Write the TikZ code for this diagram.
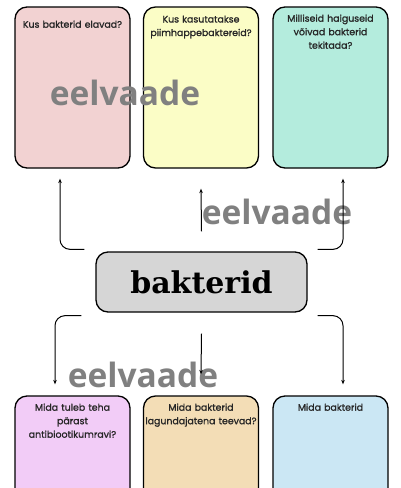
\documentclass[tikz,border=0pt]{standalone}
\usepackage{fontspec}
\newfontfamily\qfont[FakeBold=1.2]{Poppins}
\newfontfamily\wmfont{Open Sans}
\newfontfamily\titlefont{DejaVu Serif}
\usetikzlibrary{positioning, arrows.meta}
\definecolor{elupink}{HTML}{F2D2D2}
\definecolor{piimyellow}{HTML}{FBFDC6}
\definecolor{haigusmint}{HTML}{B4ECDD}
\definecolor{ravililac}{HTML}{F2CCF7}
\definecolor{lagundtan}{HTML}{F3DDB6}
\definecolor{toitblue}{HTML}{CBE7F4}

\begin{document}
\begin{tikzpicture}[x=1pt, y=-1pt, >={Stealth[length=4.5pt,width=3.5pt]},
		qbox/.style={draw, line width=1.3pt, rounded corners=12pt, minimum width=115pt, minimum height=161pt, inner sep=0pt},
		qtext/.style={font=\qfont\fontsize{9.4}{13.5}\selectfont, text=black!85, align=center, text width=114pt, inner sep=0pt},
		wmark/.style={font=\wmfont\bfseries\fontsize{33.5}{33.5}\selectfont, text=black!50},
		link/.style={->, line width=1pt, rounded corners=10pt}]
		\useasboundingbox (0,0) rectangle (400,488);
		\clip (0,0) rectangle (400,488);
		
		% Top boxes
		\node [qbox, fill=elupink, label={[qtext, anchor=north, yshift=-14pt]north:Kus bakterid elavad?}] (elu) at (72.5,87.5) {};
		\node [qbox, fill=piimyellow, label={[qtext, anchor=north, yshift=-9pt]north:Kus kasutatakse\\piimhappebaktereid?}] (piim) at (201,87.5) {};
		\node [qbox, fill=haigusmint, label={[qtext, anchor=north, yshift=-8pt]north:Milliseid haiguseid\\võivad bakterid\\tekitada?}] (haigus) at (330.5,87.5) {};
		
		% Centre
		\node [draw, line width=1.3pt, fill=black!16, rounded corners=12pt, minimum width=211pt, minimum height=60pt] (bakterid) at (201.5,282) {\titlefont\bfseries\fontsize{30}{30}\selectfont bakterid};
		
		% Bottom boxes
		\node [qbox, fill=ravililac, label={[qtext, anchor=north, yshift=-8pt]north:Mida tuleb teha\\pärast\\antibiootikumravi?}] (ravi) at (72.5,476.5) {};
		\node [qbox, fill=lagundtan, label={[qtext, anchor=north, yshift=-8pt]north:Mida bakterid\\lagundajatena teevad?}] (lagund) at (201,476.5) {};
		\node [qbox, fill=toitblue, label={[qtext, anchor=north, yshift=-8pt]north:Mida bakterid}] (toit) at (330.5,476.5) {};
		
		% Watermarks
		\node [wmark] (wmone) at (125,93) {eelvaade};
		\node [wmark] (wmtwo) at (277,212) {eelvaade};
		\node [wmark] (wmthree) at (143,375) {eelvaade};
		
		% Up arrows
		\draw[link] ([xshift=-11pt,yshift=2pt]bakterid.north west) -| ([xshift=-12.5pt,yshift=-10pt]elu.south);
		\draw[link] ([yshift=20pt]bakterid.north) -- ([yshift=-20pt]piim.south);
		\draw[link] ([xshift=10pt,yshift=2pt]bakterid.north east) -| ([xshift=12.5pt,yshift=-10pt]haigus.south);
		
		% Down arrows
		\draw[link] ([xshift=-14pt,yshift=-3pt]bakterid.south west) -| ([xshift=-17.5pt,yshift=11pt]ravi.north);
		\draw[link] ([yshift=-21pt]bakterid.south) -- ([yshift=21pt]lagund.north);
		\draw[link] ([xshift=10pt,yshift=-3pt]bakterid.south east) -| ([xshift=12.5pt,yshift=11pt]toit.north);
	\end{tikzpicture}
\end{document}
